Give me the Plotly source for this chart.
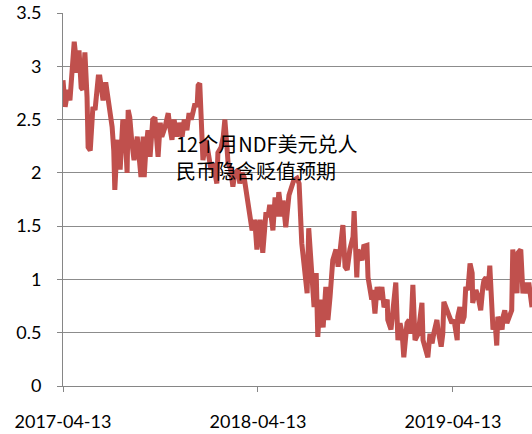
import pandas as pd
import plotly.graph_objects as go

start_date = "2017-04-13"
# days since 2017-04-13 and the implied depreciation expectation (%)
day_offsets = [
    0, 4, 7, 9, 13, 17, 21, 24, 26, 30, 34, 37, 41, 45, 47, 51, 54, 56, 60, 64,
    66, 69, 73, 75, 80, 84, 86, 92, 95, 97, 101, 103, 107, 110, 112, 116, 120, 122, 125, 129,
    133, 139, 142, 146, 150, 152, 155, 159, 163, 168, 172, 178, 182, 185, 191, 197, 200, 204, 208, 213,
    217, 223, 227, 232, 236, 240, 243, 247, 251, 253, 256, 260, 262, 268, 271, 277, 281, 285, 288, 290,
    296, 300, 303, 307, 309, 314, 318, 322, 328, 331, 335, 339, 344, 348, 354, 359, 363, 369, 374, 380,
    384, 387, 393, 397, 401, 404, 410, 412, 417, 423, 429, 432, 438, 442, 447, 453, 457, 460, 466, 470,
    474, 477, 481, 487, 492, 496, 500, 505, 511, 515, 519, 524, 528, 532, 537, 543, 545, 550, 552, 560,
    563, 569, 571, 575, 578, 580, 584, 588, 592, 597, 601, 607, 608, 614, 618, 623, 627, 631, 635, 638,
    644, 648, 651, 655, 659, 665, 668, 672, 674, 680, 683, 687, 691, 694, 700, 702, 708, 711, 713, 719,
    723, 728, 732, 734, 738, 739, 743, 747, 751, 754, 758, 762, 766, 767, 773, 777, 782, 786, 788, 792,
    796, 799, 803, 805, 809, 812, 814, 818, 822, 824, 827, 831, 835, 840, 842, 846, 850, 852, 857, 861,
    865, 869, 872, 878,
]
values = [
    2.87, 2.62, 2.71, 2.78, 2.68, 2.99, 3.23, 3.09, 2.94, 3.15, 2.80, 2.78, 3.13, 2.71, 2.24, 2.21, 2.56, 2.62, 2.59, 2.75,
    2.90, 2.90, 2.71, 2.68, 2.85, 2.71, 2.65, 2.43, 2.21, 1.84, 2.24, 2.31, 2.03, 2.24, 2.50, 2.40, 2.00, 2.59, 2.52, 2.28,
    2.12, 2.34, 2.21, 1.96, 2.34, 1.96, 2.21, 2.40, 2.15, 2.50, 2.52, 2.15, 2.47, 2.34, 2.43, 2.56, 2.43, 2.31, 2.50, 2.34,
    2.47, 2.34, 2.50, 2.40, 2.56, 2.50, 2.56, 2.65, 2.62, 2.82, 2.84, 2.34, 2.12, 2.31, 2.19, 2.03, 2.09, 1.96, 1.90, 2.19,
    2.24, 2.34, 2.50, 2.24, 2.09, 2.03, 1.87, 2.00, 2.03, 1.90, 2.00, 1.96, 1.77, 1.62, 1.46, 1.56, 1.28, 1.56, 1.25, 1.63,
    1.59, 1.70, 1.46, 1.77, 1.59, 1.82, 1.59, 1.74, 1.49, 1.79, 1.87, 1.93, 1.95, 1.90, 1.34, 1.02, 0.87, 1.48, 1.12, 0.74,
    1.06, 0.46, 0.81, 0.55, 0.93, 0.62, 0.84, 1.18, 1.28, 1.12, 1.28, 1.51, 1.12, 1.09, 1.28, 1.40, 1.64, 1.02, 1.28, 1.18,
    1.31, 1.32, 1.02, 0.93, 0.81, 0.90, 0.68, 0.93, 0.81, 0.93, 0.74, 0.81, 0.62, 0.53, 0.71, 0.97, 0.43, 0.59, 0.49, 0.27,
    0.59, 0.62, 0.49, 0.95, 0.43, 0.49, 0.62, 0.78, 0.43, 0.31, 0.27, 0.49, 0.40, 0.49, 0.62, 0.53, 0.37, 0.49, 0.79, 0.71,
    0.65, 0.59, 0.62, 0.55, 0.43, 0.65, 0.74, 0.59, 0.65, 0.93, 0.90, 1.15, 1.06, 0.78, 0.90, 0.84, 0.71, 0.93, 0.99, 1.02,
    0.90, 1.13, 0.84, 0.53, 0.59, 0.38, 0.65, 0.59, 0.53, 0.65, 0.71, 0.59, 0.65, 0.71, 1.28, 1.12, 0.87, 1.25, 1.28, 0.87,
    0.97, 0.87, 0.97, 0.74,
]
tick_dates = ["2017-04-13", "2018-04-13", "2019-04-13"]
y_ticks = [0, 0.5, 1, 1.5, 2, 2.5, 3, 3.5]
y_tick_labels = ["0", "0.5", "1", "1.5", "2", "2.5", "3", "3.5"]
label_line1 = "12个月NDF美元兑人"
label_line2 = "民币隐含贬值预期"

dates = pd.Timestamp(start_date) + pd.to_timedelta(day_offsets, unit="D")

fig = go.Figure(go.Scatter(
    x=dates, y=values, mode="lines",
    line=dict(color="#C0504D", width=5),
    hoverinfo="skip",
))

font_family = "Lato, 'Noto Sans CJK SC', sans-serif"
fig.update_layout(
    width=532, height=434,
    margin=dict(l=63, r=0, t=13, b=48, autoexpand=False),
    paper_bgcolor="white", plot_bgcolor="white",
    showlegend=False,
    font=dict(family=font_family, size=18, color="#000000"),
)
fig.update_xaxes(
    type="date",
    range=[dates[0], dates[-1]],
    tickvals=tick_dates, ticktext=tick_dates,
    showgrid=False, zeroline=False,
    showline=True, linecolor="#868686", linewidth=1,
    ticks="outside", ticklen=5, tickcolor="#868686",
    tickfont=dict(size=18),
    ticklabelstandoff=14,
    ticklabeloverflow="allow",
)
fig.update_yaxes(
    range=[0, 3.5],
    tickvals=y_ticks, ticktext=y_tick_labels,
    showgrid=True, gridcolor="#8c8c8c", gridwidth=1,
    zeroline=False,
    showline=True, linecolor="#868686", linewidth=1,
    ticks="outside", ticklen=5, tickcolor="#868686",
    tickfont=dict(size=18),
    ticklabelstandoff=12,
    ticklabeloverflow="allow",
)
cjk = "'Noto Sans CJK SC', sans-serif"
fig.add_annotation(
    xref="paper", yref="paper", x=0.237, y=0.651,
    xanchor="left", yanchor="middle", showarrow=False,
    text=label_line1, font=dict(size=20, family=cjk),
)
fig.add_annotation(
    xref="paper", yref="paper", x=0.237, y=0.579,
    xanchor="left", yanchor="middle", showarrow=False,
    text=label_line2, font=dict(size=20, family=cjk),
)

# remove the browser's default 8px body margin so the figure sits at the page origin
fig.write_html(
    "out.html",
    config={"displayModeBar": False, "staticPlot": True},
    post_script="document.body.style.margin='0';",
)
